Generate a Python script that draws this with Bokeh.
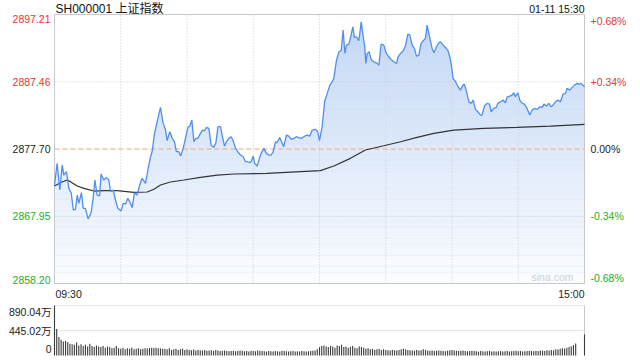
import numpy as np
from bokeh.plotting import figure
from bokeh.models import Label, Range1d
from bokeh.embed import file_html
from bokeh.resources import INLINE

# ---------------- data ----------------
title_text = "SH000001 上证指数"
date_text = "01-11 15:30"
prev_close = 2877.70
price_ticks = [2897.21, 2887.46, 2877.70, 2867.95, 2858.20]
pct_labels = ["+0.68%", "+0.34%", "0.00%", "-0.34%", "-0.68%"]
time_labels = ["09:30", "15:00"]
time_grid = [30, 60, 90, 120, 150, 180, 210]          # minutes since open (every 30 min)
session_minutes = 240
vol_ticks = [890.04, 445.02, 0]
vol_labels = ["890.04万", "445.02万", "0"]

# price path (minute since 09:30, index level)
price_min = [
    0, 1.2, 2.4, 3.5, 4.2, 5.4, 6.5, 7.6, 8.5, 9.5,
    10.3, 11.0, 12.2, 13.0, 14.0, 15.2, 16.6, 17.5, 18.3, 19.3,
    20.4, 21.1, 22.3, 23.5, 24.6, 25.4, 26.6, 27.6, 28.7, 30.2,
    31.1, 32.2, 33.2, 34.4, 35.2, 36.2, 37.4, 38.6, 39.7, 41.2,
    42.3, 43.5, 44.2, 45.3, 46.5, 48.0, 49.2, 50.3, 51.0, 52.2,
    53.3, 54.3, 55.2, 56.3, 57.1, 58.3, 59.3, 60.4, 61.3, 62.2,
    63.1, 64.0, 64.9, 66.1, 67.0, 67.9, 68.8, 69.9, 70.9, 72.1,
    73.1, 74.0, 75.2, 75.9, 77.0, 77.9, 78.9, 80.0, 80.9, 82.0,
    83.0, 84.2, 85.4, 86.5, 87.5, 88.5, 89.2, 90.0, 90.6, 91.8,
    92.8, 93.6, 94.8, 96.0, 97.0, 98.1, 99.0, 100.1, 100.8, 102.0,
    102.8, 103.8, 105.0, 106.1, 107.2, 108.4, 109.6, 110.6, 111.7,
    112.9, 114.4, 115.6, 116.7, 118.2, 119.2, 120.0, 121.2, 122.3, 123.5,
    124.7, 125.7, 126.5, 127.7, 128.8, 129.8, 130.7, 131.5, 132.2, 133.3,
    134.3, 135.1, 135.8, 136.8, 137.8, 138.9, 139.8, 140.5, 141.0, 141.6,
    142.5, 143.5, 144.6, 145.8, 146.9, 147.9, 149.1, 150.3, 151.4, 152.4,
    153.7, 154.9, 155.6, 156.7, 157.9, 158.9, 160.0, 160.9, 162.0, 163.0,
    163.9, 165.0, 166.0, 167.2, 168.0, 168.7, 169.5, 170.3, 171.0, 171.8,
    173.0, 174.0, 174.8, 176.0, 177.0, 178.1, 179.0, 179.6, 180.5, 181.6,
    182.6, 183.8, 185.0, 185.6, 186.6, 187.6, 188.7, 189.6, 190.6, 191.7,
    192.9, 193.6, 194.7, 195.9, 197.0, 197.7, 198.9, 200.1, 200.7, 202.0,
    203.2, 204.2, 205.0, 206.2, 207.2, 208.0, 208.7, 209.8, 210.7, 211.8,
    212.8, 214.0, 215.2, 216.3, 217.3, 218.6, 219.8, 220.8, 221.6, 222.8,
    223.8, 224.9, 225.8, 226.9, 227.9, 229.1, 230.3, 231.4, 232.1, 233.3,
    234.4, 235.5, 236.7, 237.9, 238.5, 240.0,
]
price_val = [
    2872.48, 2875.62, 2871.76, 2875.38, 2873.93, 2874.42, 2872.00, 2871.28, 2868.86, 2868.96,
    2871.03, 2869.83, 2871.37, 2869.10, 2869.10, 2867.56, 2868.47, 2870.55, 2873.21, 2871.03,
    2870.89, 2874.08, 2873.21, 2873.55, 2873.21, 2871.52, 2871.76, 2870.31, 2869.10, 2868.72,
    2869.83, 2869.73, 2870.55, 2869.83, 2869.20, 2871.37, 2871.03, 2872.48, 2873.45, 2872.73,
    2874.66, 2876.59, 2877.31, 2879.97, 2881.66, 2883.74, 2881.42, 2880.45, 2878.91, 2880.21,
    2879.25, 2878.76, 2877.31, 2877.31, 2876.69, 2877.80, 2879.25, 2880.84, 2881.03, 2881.90,
    2878.76, 2879.25, 2879.25, 2879.97, 2880.45, 2880.31, 2880.84, 2880.69, 2878.28, 2877.94,
    2878.62, 2880.94, 2880.94, 2879.73, 2878.13, 2878.76, 2879.25, 2879.49, 2878.91, 2877.80,
    2877.31, 2876.83, 2876.59, 2875.86, 2875.86, 2875.72, 2876.01, 2876.69, 2875.62, 2875.24,
    2876.35, 2877.07, 2877.80, 2877.07, 2876.83, 2876.83, 2877.31, 2878.76, 2878.62, 2879.39,
    2878.76, 2878.04, 2879.73, 2879.58, 2879.10, 2879.25, 2879.49, 2879.34, 2879.25,
    2879.49, 2879.73, 2879.58, 2880.45, 2880.55, 2880.21, 2878.91, 2880.94, 2884.56, 2885.77,
    2886.97, 2887.46, 2887.94, 2890.60, 2891.80, 2891.95, 2894.94, 2891.56, 2892.77, 2892.91,
    2894.22, 2895.43, 2893.88, 2893.98, 2893.40, 2896.15, 2893.98, 2892.53, 2890.11, 2891.56,
    2891.80, 2890.60, 2890.35, 2890.21, 2889.87, 2892.91, 2892.77, 2891.56, 2891.08, 2890.69,
    2890.35, 2890.11, 2891.08, 2891.56, 2891.95, 2892.62, 2894.36, 2894.22, 2892.77, 2892.29,
    2891.18, 2891.32, 2893.01, 2893.49, 2893.74, 2895.67, 2894.46, 2893.25, 2892.29, 2891.66,
    2892.53, 2893.11, 2893.25, 2892.77, 2892.43, 2892.05, 2891.08, 2890.11, 2887.94, 2887.46,
    2886.83, 2886.25, 2886.97, 2887.12, 2886.01, 2884.56, 2884.32, 2884.80, 2883.45, 2883.11,
    2882.63, 2882.63, 2883.93, 2884.32, 2884.22, 2883.11, 2883.59, 2883.74, 2884.32, 2884.56,
    2884.80, 2884.41, 2885.28, 2885.38, 2885.52, 2885.86, 2885.28, 2885.86, 2884.80, 2884.32,
    2884.22, 2883.59, 2882.63, 2883.35, 2883.59, 2883.45, 2883.83, 2883.74, 2884.22, 2883.93,
    2884.32, 2883.83, 2884.08, 2884.56, 2884.80, 2884.56, 2885.67, 2885.77, 2886.49, 2886.25,
    2886.64, 2886.97, 2887.22, 2887.12, 2887.22, 2886.73,
]

# average-price line
avg_min = [0, 2.7, 5.7, 7.2, 10.3, 13.3, 17.8, 22.3, 28.4, 35.9, 42.0, 45.0, 48.0,
           52.5, 58.6, 66.1, 73.7, 81.2, 96.3, 111.4, 120.4, 126.5, 134.0, 140.8,
           149.1, 156.7, 164.2, 171.8, 180.8, 194.4, 209.5, 224.6, 240]
avg_val = [2872.34, 2872.82, 2873.21, 2872.97, 2872.34, 2872.00, 2871.61, 2871.66, 2871.66,
           2871.42, 2871.47, 2871.86, 2872.48, 2872.92, 2873.21, 2873.59, 2873.93, 2874.08,
           2874.17, 2874.42, 2874.56, 2875.24, 2876.35, 2877.56, 2878.18, 2878.76, 2879.39,
           2879.97, 2880.45, 2880.69, 2880.84, 2881.03, 2881.27]

# volume per minute, in 万
volume = [
    890.04, 470, 330, 280, 250, 260, 240, 210, 200, 190,
    230, 180, 200, 170, 190, 160, 210, 170, 150, 180,
    160, 150, 170, 140, 160, 150, 130, 140, 170, 130,
    120, 140, 110, 130, 120, 140, 110, 120, 130, 110,
    120, 130, 125, 135, 140, 135, 140, 130, 125, 120,
    120, 110, 130, 100, 110, 120, 100, 110, 120, 100,
    110, 100, 95, 105, 90, 100, 95, 90, 100, 85,
    90, 95, 85, 100, 90, 80, 85, 90, 80, 75,
    80, 85, 75, 80, 90, 85, 75, 80, 70, 85,
    80, 75, 90, 85, 80, 75, 70, 80, 75, 70,
    80, 75, 70, 85, 80, 75, 70, 75, 80, 70,
    75, 70, 80, 75, 70, 75, 80, 85, 90, 110,
    150, 170, 180, 160, 150, 170, 160, 140, 180, 170,
    190, 150, 160, 140, 150, 170, 140, 130, 160, 150,
    140, 120, 130, 110, 120, 100, 110, 120, 100, 110,
    100, 95, 90, 100, 95, 90, 100, 110, 120, 110,
    100, 95, 90, 85, 100, 90, 95, 110, 100, 90,
    85, 90, 80, 85, 90, 85, 80, 75, 85, 95,
    100, 90, 85, 80, 85, 90, 80, 75, 80, 85,
    80, 75, 70, 80, 75, 70, 75, 80, 70, 75,
    70, 75, 80, 70, 75, 80, 70, 75, 80, 85,
    75, 80, 70, 75, 80, 85, 80, 75, 85, 80,
    90, 85, 80, 95, 90, 100, 95, 110, 105, 120,
    130, 125, 140, 150, 165, 185, 215, 0, 0, 0,
    375,
]

# ---------------- layout (pixels) ----------------
W, H = 640, 360
FL, FR = 54, 584       # chart left / right edge
PT, PB = 14, 283       # price panel top / bottom
VT, VB = 305, 355      # volume panel top / bottom

FONT = "Liberation Sans, 'Noto Sans CJK SC', sans-serif"
RED = "#f03232"
GREEN = "#22b022"
BLACK = "#222222"
BORDER = "#c8c8c8"
GRID = "#cccccc"
label_colors = [RED, RED, BLACK, GREEN, GREEN]

n = min(len(price_min), len(price_val))
price_min = price_min[:n]
price_val = price_val[:n]

y_lo, y_hi = price_ticks[-1], price_ticks[0]
vmax = vol_ticks[0]

ppm = (FR - FL) / session_minutes
x0 = -FL / ppm
x1 = session_minutes + (W - FR) / ppm
ppp = (PB - PT) / (y_hi - y_lo)
py1 = y_hi + PT / ppp
py0 = y_lo - (H - PB) / ppp
ppv = (VB - VT) / vmax
vy1 = vmax + VT / ppv
vy0 = -(H - VB) / ppv

p = figure(width=W, height=H, title=None,
           x_range=Range1d(x0, x1), y_range=Range1d(py0, py1),
           x_axis_location=None, y_axis_location=None,
           output_backend="svg", toolbar_location=None, min_border=0)
p.extra_y_ranges = {"vol": Range1d(vy0, vy1)}
p.xgrid.visible = False
p.ygrid.visible = False
p.outline_line_color = None
p.background_fill_color = "white"
p.border_fill_color = "white"

# area under the price line
p.varea(x=price_min, y1=[y_lo] * n, y2=price_val, fill_color="#c2d7f5", fill_alpha=1.0)

# vertical white wash to imitate the gradient fill
nb = 48
edges = np.linspace(y_hi, y_lo, nb + 1)
tcen = (np.arange(nb) + 0.5) / nb
p.quad(left=0, right=session_minutes, top=edges[:-1], bottom=edges[1:],
       fill_color="white", fill_alpha=0.93 * tcen, line_color=None)

# gridlines
p.segment(x0=time_grid, y0=y_lo, x1=time_grid, y1=y_hi,
          line_color=GRID, line_dash="1 2", line_width=1)
mid_lines = [t for t in price_ticks[1:-1] if t != prev_close]
p.segment(x0=0, y0=mid_lines, x1=session_minutes, y1=mid_lines,
          line_color=GRID, line_dash="1 2", line_width=1)
p.segment(x0=0, y0=[prev_close], x1=session_minutes, y1=[prev_close],
          line_color="#eea57a", line_dash="5 3", line_width=1)

# frame of the price panel
p.quad(left=[0], right=[session_minutes], top=[y_hi], bottom=[y_lo],
       fill_color=None, line_color=BORDER, line_width=1)

p.line(avg_min, avg_val, line_color="#333333", line_width=1.2)
p.line(price_min, price_val, line_color="#4f8ef0", line_width=1.3)

# left price labels and right percentage labels
baselines = ["top", "middle", "middle", "middle", "bottom"]
for yv, lab, col, bl in zip(price_ticks, pct_labels, label_colors, baselines):
    p.add_layout(Label(x=0, y=yv, text=f"{yv:.2f}", x_offset=-4, text_align="right",
                       text_baseline=bl, text_color=col, text_font_size="10.5px",
                       text_font=FONT))
    p.add_layout(Label(x=session_minutes, y=yv, text=lab, x_offset=6, text_align="left",
                       text_baseline=bl, text_color=col, text_font_size="10.5px",
                       text_font=FONT))

# title and date
p.add_layout(Label(x=0, y=y_hi, text=title_text, x_offset=1, y_offset=6,
                   text_align="left", text_baseline="middle", text_color="#111111",
                   text_font_size="12px", text_font=FONT))
p.add_layout(Label(x=session_minutes, y=y_hi, text=date_text, x_offset=0, y_offset=6,
                   text_align="right", text_baseline="middle", text_color="#111111",
                   text_font_size="10.5px", text_font=FONT))

# time labels below the chart
p.add_layout(Label(x=0, y=y_lo, text=time_labels[0], x_offset=1, y_offset=-10,
                   text_align="left", text_baseline="middle", text_color=BLACK,
                   text_font_size="10.5px", text_font=FONT))
p.add_layout(Label(x=session_minutes, y=y_lo, text=time_labels[1], x_offset=0, y_offset=-10,
                   text_align="right", text_baseline="middle", text_color=BLACK,
                   text_font_size="10.5px", text_font=FONT))

# watermark
p.add_layout(Label(x=session_minutes, y=y_lo, text="sina.com", x_offset=-11, y_offset=1,
                   text_align="right", text_baseline="bottom", text_color="#d0d0d0",
                   text_font_size="10.5px", text_font=FONT))

# ---------------- volume panel ----------------
p.segment(x0=0, y0=vol_ticks[:2], x1=session_minutes, y1=vol_ticks[:2],
          line_color=GRID, line_dash="1 1", line_width=1, y_range_name="vol")
p.segment(x0=[0, session_minutes], y0=0, x1=[0, session_minutes], y1=vmax,
          line_color=BORDER, line_width=1, y_range_name="vol")

vol_x = list(range(len(volume)))
p.vbar(x=vol_x, top=volume, bottom=0, width=0.5, fill_color="#3c3c3c",
       line_color=None, y_range_name="vol")

vol_offsets = [-6, 0, 7]
for yv, lab, off in zip(vol_ticks, vol_labels, vol_offsets):
    p.add_layout(Label(x=0, y=yv, text=lab, x_offset=-3, y_offset=off, text_align="right",
                       text_baseline="middle", text_color=BLACK, text_font_size="10.5px",
                       text_font=FONT, y_range_name="vol"))

open("out.html", "w").write(file_html(p, INLINE))
